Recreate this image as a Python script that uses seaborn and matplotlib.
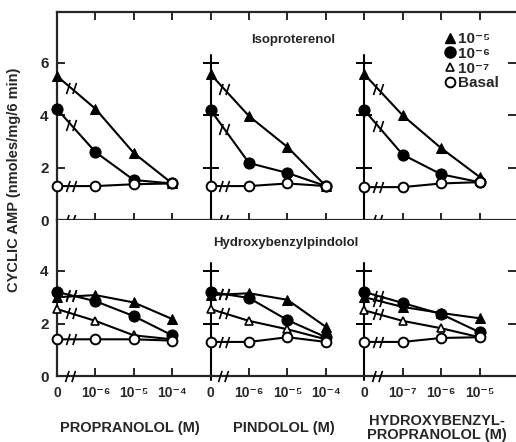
import numpy as np
import pandas as pd
import matplotlib
matplotlib.use("Agg")
import matplotlib.pyplot as plt
from matplotlib.path import Path
from matplotlib.lines import Line2D
import seaborn as sns

# ---- data ----
x_labels = ["0", "10⁻⁶", "10⁻⁵", "10⁻⁴",
            "0", "10⁻⁶", "10⁻⁵", "10⁻⁴",
            "0", "10⁻⁷", "10⁻⁶", "10⁻⁵"]
antagonists = ["PROPRANOLOL (M)", "PINDOLOL (M)", "HYDROXYBENZYL-\nPROPRANOLOL (M)"]
panel_titles = ["Isoproterenol", "Hydroxybenzylpindolol"]
legend_labels = ["10⁻⁵", "10⁻⁶", "10⁻⁷", "Basal"]

# top panel (isoproterenol), one row per antagonist
iso_1e5 = [[5.5, 4.25, 2.56, 1.40], [5.57, 3.97, 2.79, 1.30], [5.57, 4.00, 2.75, 1.65]]
iso_1e6 = [[4.24, 2.60, 1.53, 1.40], [4.20, 2.18, 1.80, 1.30], [4.20, 2.50, 1.75, 1.45]]
iso_basal = [[1.30, 1.30, 1.37, 1.40], [1.30, 1.30, 1.40, 1.30], [1.26, 1.26, 1.40, 1.45]]

# bottom panel (hydroxybenzylpindolol)
hbp_1e5 = [[3.00, 3.08, 2.80, 2.17], [3.08, 3.15, 2.90, 1.87], [3.00, 2.63, 2.40, 2.20]]
hbp_1e6 = [[3.20, 2.85, 2.28, 1.55], [3.20, 2.97, 2.13, 1.48], [3.20, 2.78, 2.36, 1.67]]
hbp_1e7 = [[2.55, 2.10, 1.55, 1.40], [2.55, 2.10, 1.78, 1.40], [2.50, 2.10, 1.82, 1.48]]
hbp_basal = [[1.40, 1.40, 1.40, 1.35], [1.30, 1.30, 1.48, 1.30], [1.30, 1.30, 1.45, 1.48]]

# marker styles per series
styles = {
    "1e-5": dict(marker="^", markersize=7, markerfacecolor="black"),
    "1e-6": dict(marker="o", markersize=8, markerfacecolor="black"),
    "1e-7": dict(marker="^", markersize=5.5, markerfacecolor="white", markeredgewidth=1.2),
    "basal": dict(marker="o", markersize=7, markerfacecolor="white", markeredgewidth=1.4),
}


def to_long(series):
    rows = []
    for name, vals in series.items():
        for g, grp in enumerate(vals):
            for j, v in enumerate(grp):
                rows.append(dict(series=name, group=g, pos=4 * g + j, value=v))
    return pd.DataFrame(rows)


top_df = to_long({"1e-5": iso_1e5, "1e-6": iso_1e6, "basal": iso_basal})
bot_df = to_long({"1e-5": hbp_1e5, "1e-6": hbp_1e6, "1e-7": hbp_1e7, "basal": hbp_basal})

sns.set_style("ticks")
plt.rcParams["font.family"] = ["Liberation Sans", "DejaVu Sans"]
plt.rcParams["font.weight"] = "bold"

fig = plt.figure(figsize=(5.16, 4.42), dpi=100)
ax_top = fig.add_axes([0.1105, 0.502, 0.8895, 0.471])
ax_bot = fig.add_axes([0.1105, 0.149, 0.8895, 0.353])

# "//" break marker
brk = Path([(-0.9, -1.0), (-0.25, 1.0), (0.25, -1.0), (0.9, 1.0)],
           [Path.MOVETO, Path.LINETO, Path.MOVETO, Path.LINETO])

for ax, df, ymax, yt in [(ax_top, top_df, 7.95, [0, 2, 4, 6]),
                         (ax_bot, bot_df, 5.93, [0, 2, 4])]:
    for name in df["series"].unique():
        sub = df[df["series"] == name]
        sns.lineplot(data=sub, x="pos", y="value", units="group", estimator=None,
                     color="black", lw=1.5, markeredgecolor="black", clip_on=False,
                     legend=False, ax=ax, zorder=3, **styles[name])
        # break marks on first segment of each line
        for g in sub["group"].unique():
            s = sub[sub["group"] == g].sort_values("pos")
            x0, x1 = s["pos"].iloc[0], s["pos"].iloc[1]
            y0, y1 = s["value"].iloc[0], s["value"].iloc[1]
            f = 0.36
            ax.plot(x0 + f * (x1 - x0), y0 + f * (y1 - y0), marker=brk, ms=8,
                    mec="black", mew=1.2, ls="none", zorder=4)
    ax.set_xlim(0, 11.95)
    ax.set_ylim(0, ymax)
    ax.set_yticks(yt)
    ax.set_xlabel("")
    ax.set_ylabel("")
    for sp in ax.spines.values():
        sp.set_linewidth(1.6)
    ax.spines["right"].set_visible(False)
    # inner panel axes at pos 4 and 8
    vtop = max(yt) + 0.3
    for gx in [4, 8]:
        ax.plot([gx, gx], [-0.15, vtop], color="black", lw=1.5, clip_on=False, zorder=2)
        ax.plot([gx] * (len(yt) - 1), yt[1:], marker="_", ms=11, mew=1.4,
                color="black", ls="none", zorder=2)
    # x-axis break marks
    for gx in [0, 4, 8]:
        ax.plot(gx + 0.33, 0, marker=brk, ms=8, mec="black", mew=1.2, ls="none",
                clip_on=False, zorder=4)
    ax.tick_params(axis="y", which="both", direction="in", length=6, width=1.4,
                   right=True, left=True, labelsize=11, pad=6)

minor = [p for p in range(1, 12)]

# top panel
ax_top.set_xticks([p for p in minor if p % 4 != 0])
ax_top.set_xticklabels([])
ax_top.tick_params(axis="x", direction="inout", length=10, width=1.4, top=False)
sec = ax_top.secondary_xaxis("top")
sec.set_xticks(minor)
sec.set_xticklabels([])
sec.tick_params(direction="in", length=6, width=1.4)
sec.spines["top"].set_linewidth(1.6)
ax_top.spines["top"].set_visible(False)
ax_top.text(6.14, 6.87, panel_titles[0], ha="center", va="center", fontsize=9.5,
            fontweight="bold")

# bottom panel
ax_bot.spines["top"].set_visible(False)
ax_bot.set_xticks(range(12))
ax_bot.set_xticklabels(x_labels)
ax_bot.tick_params(axis="x", direction="in", length=6, width=1.4, labelsize=10, pad=7)
ax_bot.text(5.96, 5.06, panel_titles[1], ha="center", va="center", fontsize=9.5,
            fontweight="bold")

# antagonist labels
for g, lab in enumerate(antagonists):
    fig.text(0.1105 + 0.8895 * (4 * g + 1.9) / 11.95, 0.032, lab,
             ha="center", va="center", fontsize=10.5, fontweight="bold",
             linespacing=1.0)

fig.text(0.027, 0.593, "CYCLIC AMP (nmoles/mg/6 min)", rotation=90, ha="center",
         va="center", fontsize=10.5, fontweight="bold")

handles = [Line2D([], [], color="black", ls="none", markeredgecolor="black",
                  **styles[k]) for k in ["1e-5", "1e-6", "1e-7", "basal"]]
ax_top.legend(handles, legend_labels, loc="upper right", bbox_to_anchor=(0.985, 0.955),
              frameon=False, handletextpad=0.0, handlelength=1.0, labelspacing=0.05,
              borderpad=0.2, prop=dict(size=11, weight="bold"))

fig.savefig("out.png", dpi=100)
